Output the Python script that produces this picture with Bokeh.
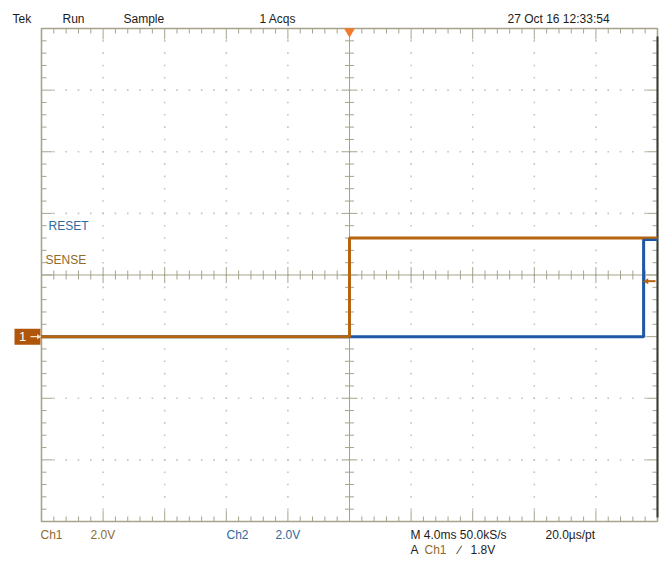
import numpy as np
from bokeh.plotting import figure
from bokeh.models import Range1d, Label
from bokeh.embed import file_html
from bokeh.resources import INLINE

# --- captured waveforms (time in ms relative to trigger, amplitude in V) ---
ch1_time = [-20.0, 0.0, 0.0, 20.0]          # SENSE
ch1_volts = [0.0, 0.0, 3.2, 3.2]
ch2_time = [-20.0, 19.1, 19.1, 20.0]        # RESET
ch2_volts = [0.0, 0.0, 3.15, 3.15]

# --- scope settings ---
time_per_div = 4.0       # ms/div
volts_per_div = 2.0      # V/div (both channels)
ground_div = -1.0        # ground reference position, divisions from centre
trigger_time = 0.0
trigger_level = 1.8      # V
n_hdiv, n_vdiv = 10, 8

# header / footer readouts
header_texts = ["Tek", "Run", "Sample", "1 Acqs", "27 Oct 16 12:33:54"]
ch_scale_texts = ["Ch1", "2.0V", "Ch2", "2.0V"]
timebase_text = "M 4.0ms 50.0kS/s"
record_text = "20.0\u00b5s/pt"

# --- colours ---
C_CH1 = "#b5640f"
C_CH1_TXT = "#8f6a2c"
C_CH2 = "#1f58a5"
C_CH2_TXT = "#2f6b9c"
C_GRAT = "#a6a38c"
C_DOT = "#c4c4c4"
C_TXT = "#1c1c1c"
FONT = "Liberation Sans"

# --- geometry of the graticule on the canvas ---
W, H = 660, 564
LEFT, RIGHT, TOP, BOTTOM = 41.0, 657.0, 28.0, 521.0
px_x = (RIGHT - LEFT) / (n_hdiv * time_per_div)      # pixels per ms
px_y = (BOTTOM - TOP) / (n_vdiv * volts_per_div)     # pixels per volt

t0 = -n_hdiv / 2 * time_per_div
t1 = n_hdiv / 2 * time_per_div
v_mid = -ground_div * volts_per_div
v_top = v_mid + n_vdiv / 2 * volts_per_div
v_bot = v_mid - n_vdiv / 2 * volts_per_div


def dx(px):
    return px / px_x


def dy(px):
    return px / px_y


def sx(x_px):
    return t0 + (x_px - LEFT) / px_x


def sy(y_px):
    return v_top - (y_px - TOP) / px_y


p = figure(width=W, height=H, output_backend="svg", toolbar_location=None,
           x_axis_type=None, y_axis_type=None, min_border=0,
           x_range=Range1d(sx(0), sx(W)), y_range=Range1d(sy(H), sy(0)))
p.grid.visible = False
p.outline_line_color = None
p.background_fill_color = "white"
p.border_fill_color = "white"

# --- dotted graticule ---
hdiv = time_per_div
vdiv = volts_per_div
major_x = [t0 + i * hdiv for i in range(1, n_hdiv) if i != n_hdiv // 2]
major_y = [v_bot + j * vdiv for j in range(1, n_vdiv) if j != n_vdiv // 2]
fine_x = [t0 + k * hdiv / 5 for k in range(1, n_hdiv * 5)]
fine_y = [v_bot + k * vdiv / 5 for k in range(1, n_vdiv * 5)]
dots_x, dots_y = [], []
for gx in major_x:
    for fy in fine_y:
        dots_x.append(gx)
        dots_y.append(fy)
for gy in major_y:
    for fx in fine_x:
        dots_x.append(fx)
        dots_y.append(gy)
p.scatter(dots_x, dots_y, marker="square", size=1.6, color=C_DOT, line_color=None)

# --- border ticks ---
xs0, ys0, xs1, ys1 = [], [], [], []
for k in range(1, n_hdiv * 5):
    fx = t0 + k * hdiv / 5
    ln = 11 if k % 5 == 0 else 5
    xs0 += [fx, fx]
    xs1 += [fx, fx]
    ys0 += [v_top, v_bot]
    ys1 += [v_top - dy(ln), v_bot + dy(ln)]
for k in range(1, n_vdiv * 5):
    fy = v_bot + k * vdiv / 5
    ln = 11 if k % 5 == 0 else 5
    xs0 += [t0, t1]
    xs1 += [t0 + dx(ln), t1 - dx(ln)]
    ys0 += [fy, fy]
    ys1 += [fy, fy]
p.segment(xs0, ys0, xs1, ys1, line_color=C_GRAT, line_width=1)

# --- centre cross with fine ticks ---
p.segment([t0, 0.0], [v_mid, v_bot], [t1, 0.0], [v_mid, v_top],
          line_color=C_GRAT, line_width=1)
cx0, cy0, cx1, cy1 = [], [], [], []
for k in range(1, n_hdiv * 5):
    fx = t0 + k * hdiv / 5
    ln = 8 if k % 5 == 0 else 4.5
    cx0.append(fx)
    cx1.append(fx)
    cy0.append(v_mid - dy(ln))
    cy1.append(v_mid + dy(ln))
for k in range(1, n_vdiv * 5):
    fy = v_bot + k * vdiv / 5
    ln = 8 if k % 5 == 0 else 4.5
    cx0.append(-dx(ln))
    cx1.append(dx(ln))
    cy0.append(fy)
    cy1.append(fy)
p.segment(cx0, cy0, cx1, cy1, line_color=C_GRAT, line_width=1)

# --- frame ---
p.quad(left=[t0], right=[t1], bottom=[v_bot], top=[v_top],
       fill_color=None, line_color=C_GRAT, line_width=1.6)
p.segment([t1], [v_bot + dy(4)], [t1], [v_top - dy(8)],
          line_color="#3a3a3a", line_width=2)

# --- waveforms ---
p.line(ch2_time, ch2_volts, line_color=C_CH2, line_width=3)
p.line(ch1_time, ch1_volts, line_color=C_CH1, line_width=3)
p.line(ch2_time[1:], ch2_volts[1:], line_color=C_CH2, line_width=1.8)

# --- channel ground marker ---
p.quad(left=[t0 - dx(27)], right=[t0 - dx(1)],
       bottom=[-dy(8)], top=[dy(8)], fill_color="#b0560c", line_color=None)
p.add_layout(Label(x=t0 - dx(19), y=0, text="1", text_color="white",
                   text_font=FONT, text_font_size="13px",
                   text_align="center", text_baseline="middle"))
p.segment([t0 - dx(11)], [0], [t0 - dx(3)], [0], line_color="#f4e2c8", line_width=1.4)
p.scatter([t0 - dx(3)], [0], marker="triangle", angle=-np.pi / 2, size=5,
          color="#f4e2c8", line_color=None)

# --- trigger position and level markers ---
p.scatter([trigger_time], [v_top - dy(3)], marker="inverted_triangle", size=11,
          color="#ee7a2c", line_color=None)
p.segment([t1 - dx(10)], [trigger_level], [t1 - dx(2)], [trigger_level],
          line_color=C_CH1, line_width=2)
p.scatter([t1 - dx(11)], [trigger_level], marker="triangle", angle=np.pi / 2, size=6,
          color=C_CH1, line_color=None)

# --- trace labels ---
p.add_layout(Label(x=sx(48), y=sy(225), text="RESET", text_color=C_CH2_TXT,
                   text_font=FONT, text_font_size="12px", text_baseline="middle"))
p.add_layout(Label(x=sx(45), y=sy(259), text="SENSE", text_color=C_CH1_TXT,
                   text_font=FONT, text_font_size="12px", text_baseline="middle"))

# --- header readouts ---
for txt, xp in zip(header_texts, [12, 62, 123, 259, 507]):
    p.add_layout(Label(x=sx(xp), y=sy(18), text=txt, text_color=C_TXT,
                       text_font=FONT, text_font_size="12px", text_baseline="middle"))

# --- footer readouts ---
for txt, xp, col in zip(ch_scale_texts, [40, 90, 226, 275],
                        [C_CH1_TXT, C_CH1_TXT, C_CH2_TXT, C_CH2_TXT]):
    p.add_layout(Label(x=sx(xp), y=sy(534), text=txt, text_color=col,
                       text_font=FONT, text_font_size="12px", text_baseline="middle"))
p.add_layout(Label(x=sx(410), y=sy(534), text=timebase_text, text_color=C_TXT,
                   text_font=FONT, text_font_size="12px", text_baseline="middle"))
p.add_layout(Label(x=sx(545), y=sy(534), text=record_text, text_color=C_TXT,
                   text_font=FONT, text_font_size="12px", text_baseline="middle"))
p.add_layout(Label(x=sx(410), y=sy(549), text="A", text_color=C_TXT,
                   text_font=FONT, text_font_size="12px", text_baseline="middle"))
p.add_layout(Label(x=sx(424), y=sy(549), text="Ch1", text_color=C_CH1_TXT,
                   text_font=FONT, text_font_size="12px", text_baseline="middle"))
p.add_layout(Label(x=sx(458), y=sy(549), text="\u2215", text_color=C_TXT,
                   text_font=FONT, text_font_size="12px", text_baseline="middle"))
p.add_layout(Label(x=sx(470), y=sy(549), text=f"{trigger_level:.1f}V", text_color=C_TXT,
                   text_font=FONT, text_font_size="12px", text_baseline="middle"))

open("out.html", "w").write(file_html(p, INLINE))
